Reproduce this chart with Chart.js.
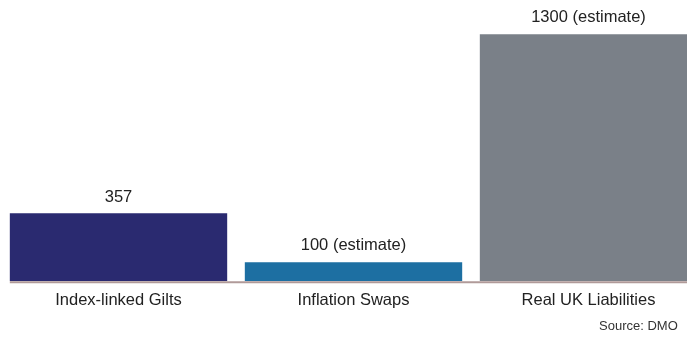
<!DOCTYPE html>
<html>
<head>
<meta charset="utf-8">
<script src="https://cdn.jsdelivr.net/npm/chart.js@4/dist/chart.umd.min.js"></script>
<style>
  html, body { margin: 0; padding: 0; background: #fff; overflow: hidden; }
  #wrap { position: relative; width: 687px; height: 338px; overflow: hidden; }
  #source { position: absolute; left: 599px; top: 318px; font: 13px "Liberation Sans", Arial, sans-serif; color: #333; }
</style>
</head>
<body>
<div id="wrap">
  <canvas id="myChart" width="706" height="338"></canvas>
  <div id="source">Source: DMO</div>
</div>
<script>
// chart data
const categories = ['Index-linked Gilts', 'Inflation Swaps', 'Real UK Liabilities'];
const values = [357, 100, 1300];
const valueLabels = ['357', '100 (estimate)', '1300 (estimate)'];
const barColors = ['#2a2a70', '#1d6fa2', '#7a8088'];

// draws the value text above each bar and the base line
const barTextPlugin = {
    id: 'barText',
    afterDatasetsDraw(chart) {
        const ctx = chart.ctx;
        const meta = chart.getDatasetMeta(0);
        const yScale = chart.scales.y;
        ctx.save();
        ctx.font = '16.5px "Liberation Sans", Arial, sans-serif';
        ctx.fillStyle = '#222';
        ctx.textAlign = 'center';
        ctx.textBaseline = 'bottom';
        meta.data.forEach((bar, i) => {
            ctx.fillText(valueLabels[i], bar.x, bar.y - 8);
        });
        // base line
        const first = meta.data[0];
        const y0 = yScale.getPixelForValue(0);
        ctx.strokeStyle = '#b09a99';
        ctx.lineWidth = 2;
        ctx.beginPath();
        ctx.moveTo(first.x - first.width / 2, y0 + 1);
        ctx.lineTo(chart.chartArea.right, y0 + 1);
        ctx.stroke();
        ctx.restore();
    }
};

const ctx = document.getElementById('myChart').getContext('2d');
const chart = new Chart(ctx, {
    type: 'bar',
    data: {
        labels: categories,
        datasets: [{
            data: values,
            backgroundColor: barColors,
            borderWidth: 0,
            barPercentage: 0.925,
            categoryPercentage: 1
        }]
    },
    options: {
        responsive: false,
        animation: false,
        layout: { padding: { left: 1, right: 0, top: 0, bottom: 27 } },
        plugins: {
            legend: { display: false },
            tooltip: { enabled: false }
        },
        scales: {
            x: {
                grid: { display: false },
                border: { display: false },
                ticks: {
                    color: '#222',
                    padding: 1,
                    maxRotation: 0,
                    autoSkip: false,
                    font: { family: '"Liberation Sans", Arial, sans-serif', size: 16.5 }
                }
            },
            y: {
                display: false,
                min: 0,
                max: 1480
            }
        }
    },
    plugins: [barTextPlugin]
});
</script>
</body>
</html>
